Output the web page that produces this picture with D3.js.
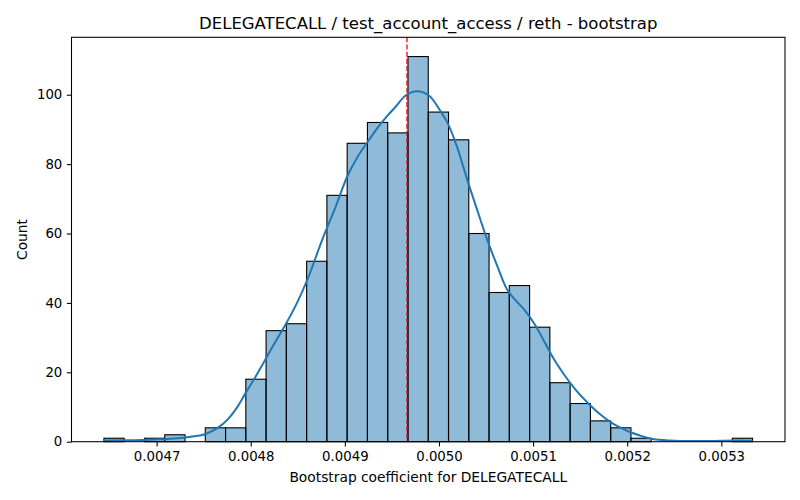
<!DOCTYPE html>
<html>
<head>
<meta charset="utf-8">
<script src="https://cdn.jsdelivr.net/npm/d3@7"></script>
<style>
  body { margin: 0; background: #fff; }
  svg { font-family: "DejaVu Sans", sans-serif; }
</style>
</head>
<body>
<svg id="chart" width="800" height="500"></svg>
<script>
// ---- data ----
const titleText = "DELEGATECALL / test_account_access / reth - bootstrap";
const xLabelText = "Bootstrap coefficient for DELEGATECALL";
const yLabelText = "Count";

const binMin = 0.0046440;
const binMax = 0.0053332;
const binCounts = [1, 0, 1, 2, 0, 4, 4, 18, 32, 34, 52, 71, 86, 92, 89, 111,
                   95, 87, 60, 43, 45, 33, 17, 11, 6, 4, 1, 0, 0, 0, 0, 1];

const kdeX = [0.0046439, 0.0046725, 0.0047043, 0.0047256, 0.0047362, 0.0047521, 0.0047645,
  0.0047751, 0.0047857, 0.0047945, 0.0048033, 0.0048139, 0.0048245, 0.0048351, 0.0048493,
  0.0048602, 0.0048761, 0.0048899, 0.0049026, 0.0049133, 0.0049239, 0.0049345, 0.0049451,
  0.0049535, 0.0049642, 0.0049769, 0.0049896, 0.0050031, 0.0050087, 0.0050193, 0.0050299,
  0.0050405, 0.0050511, 0.0050617, 0.0050723, 0.0050808, 0.0050914, 0.0051020, 0.0051126,
  0.0051232, 0.0051338, 0.0051444, 0.0051603, 0.0051709, 0.0051815, 0.0051922, 0.0052028,
  0.0052134, 0.0052271, 0.0052452, 0.0052664, 0.0052876, 0.0053120, 0.0053332];
const kdeY = [0.32, 0.43, 0.69, 1.07, 1.45, 2.23, 3.90,
  6.30, 9.97, 14.0, 17.9, 22.9, 28.0, 32.9, 40.1,
  46.7, 58.3, 67.5, 76.5, 82.0, 86.3, 90.4, 93.9,
  96.4, 99.7, 101.0, 99.7, 94.6, 92.1, 84.9, 75.6,
  66.9, 58.3, 50.8, 43.9, 40.95, 37.8, 33.7, 28.5,
  23.3, 19.0, 15.2, 10.6, 8.0, 5.8, 4.1, 2.8,
  1.8, 0.78, 0.35, 0.2, 0.2, 0.35, 0.3];

const refLine = 0.0049660;
const xTicks = [0.0047, 0.0048, 0.0049, 0.0050, 0.0051, 0.0052, 0.0053];
const yTicks = [0, 20, 40, 60, 80, 100];

// ---- layout ----
const svg = d3.select("#chart");
const mLeft = 71.5, mRight = 785, mTop = 37.3, mBottom = 441.7;

const nb = binCounts.length;
const bw = (binMax - binMin) / nb;
const bins = binCounts.map((c, i) => ({x0: binMin + i * bw, x1: binMin + (i + 1) * bw, c}));

const xr = binMax - binMin;
const x = d3.scaleLinear().domain([binMin - 0.05 * xr, binMax + 0.05 * xr]).range([mLeft, mRight]);
const yMax = d3.max(binCounts) * 1.05;
const y = d3.scaleLinear().domain([0, yMax]).range([mBottom, mTop]);

// bars
svg.append("g").selectAll("rect")
  .data(bins.filter(b => b.c > 0))
  .join("rect")
  .attr("x", d => x(d.x0))
  .attr("y", d => y(d.c))
  .attr("width", d => x(d.x1) - x(d.x0))
  .attr("height", d => y(0) - y(d.c))
  .attr("fill", "rgba(31,119,180,0.5)")
  .attr("stroke", "#000")
  .attr("stroke-width", 1.1);

// kde
const kdePts = kdeX.map((v, i) => [v, kdeY[i]]);
svg.append("path")
  .datum(kdePts)
  .attr("fill", "none")
  .attr("stroke", "#1f77b4")
  .attr("stroke-width", 2)
  .attr("d", d3.line().x(d => x(d[0])).y(d => y(d[1])).curve(d3.curveMonotoneX));

// reference line
svg.append("line")
  .attr("x1", x(refLine)).attr("x2", x(refLine))
  .attr("y1", mTop).attr("y2", mBottom)
  .attr("stroke", "red")
  .attr("stroke-width", 1.3)
  .attr("stroke-dasharray", "5,2.2");

// axes
const xAxis = d3.axisBottom(x).tickValues(xTicks).tickFormat(d3.format(".4f")).tickSizeOuter(0).tickSize(4.7).tickPadding(5.5);
const yAxis = d3.axisLeft(y).tickValues(yTicks).tickFormat(d3.format("d")).tickSizeOuter(0).tickSize(4.7).tickPadding(4.5);

const gx = svg.append("g").attr("transform", `translate(0,${mBottom})`).call(xAxis);
const gy = svg.append("g").attr("transform", `translate(${mLeft},0)`).call(yAxis);
[gx, gy].forEach(g => {
  g.select(".domain").remove();
  g.selectAll(".tick line").attr("stroke", "#000").attr("stroke-width", 1.07);
  g.selectAll(".tick text").attr("fill", "#000").attr("font-size", "13.3px")
    .attr("font-family", "DejaVu Sans, sans-serif");
});

// frame
svg.append("rect")
  .attr("x", mLeft).attr("y", mTop)
  .attr("width", mRight - mLeft).attr("height", mBottom - mTop)
  .attr("fill", "none").attr("stroke", "#000").attr("stroke-width", 1.07);

// title and labels
svg.append("text")
  .attr("x", (mLeft + mRight) / 2).attr("y", 29)
  .attr("text-anchor", "middle").attr("font-size", "16.5px").attr("fill", "#000")
  .text(titleText);

svg.append("text")
  .attr("x", (mLeft + mRight) / 2).attr("y", 482)
  .attr("text-anchor", "middle").attr("font-size", "13.8px").attr("fill", "#000")
  .text(xLabelText);

svg.append("text")
  .attr("transform", `translate(26.5,${(mTop + mBottom) / 2}) rotate(-90)`)
  .attr("text-anchor", "middle").attr("font-size", "13.8px").attr("fill", "#000")
  .text(yLabelText);
</script>
</body>
</html>
